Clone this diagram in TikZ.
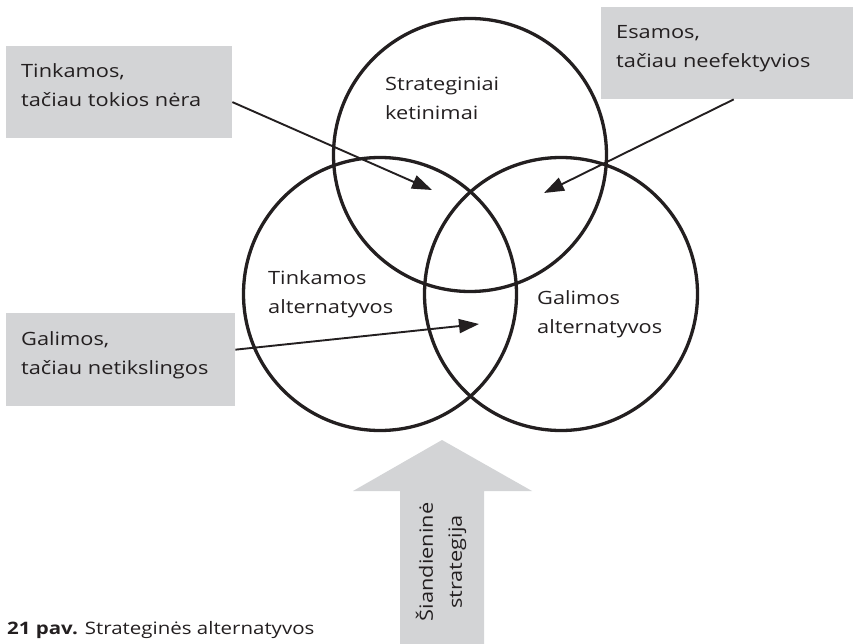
\documentclass[tikz,border=0pt]{standalone}
\usepackage{fontspec}
\setmainfont{Open Sans}[FakeStretch=1.19]
\usetikzlibrary{arrows.meta}
\definecolor{ink}{HTML}{231F20}
\definecolor{boxgrey}{HTML}{D3D4D6}
\newcommand\lblfont{\fontsize{18.3}{29}\selectfont}
\newcommand\capfont{\fontsize{17.2}{20}\selectfont}
\newcommand\firstline{\rule{0pt}{14pt}}
\begin{document}
\begin{tikzpicture}[x=1pt,y=-1pt,
  ring/.style={circle, draw=ink, line width=3.3pt, minimum size=273pt, inner sep=0pt},
  greybox/.style={fill=boxgrey, draw=none, inner sep=0pt, anchor=north west},
  lbl/.style={anchor=north west, inner sep=0pt, align=left, text=ink, font=\lblfont},
  pointer/.style={draw=ink, line width=1.9pt, -{Triangle[length=20pt,width=14pt]}},
]
\useasboundingbox (0,0) rectangle (853,644);

% three overlapping circles
\node[ring] (intent) at (470,155) {};
\node[ring] (suit)   at (380,294) {};
\node[ring] (poss)   at (561,294) {};

% circle labels
\node[lbl] (intentlbl) at (385,76)  {\firstline Strateginiai\\ketinimai};
\node[lbl] (suitlbl)   at (268,270) {\firstline Tinkamos\\alternatyvos};
\node[lbl] (posslbl)   at (537,290) {\firstline Galimos\\alternatyvos};

% grey call-out boxes
\node[greybox, minimum width=226pt, minimum height=92pt] (b1) at (6,46) {};
\node[greybox, minimum width=252pt, minimum height=92pt] (b2) at (601,7) {};
\node[greybox, minimum width=229pt, minimum height=93pt] (b3) at (6,313) {};
\node[lbl] (b1txt) at (21,63)  {\firstline Tinkamos,\\tačiau tokios nėra};
\node[lbl] (b2txt) at (616,24) {\firstline Esamos,\\tačiau neefektyvios};
\node[lbl] (b3txt) at (21,331) {\firstline Galimos,\\tačiau netikslingos};

% arrow targets
\coordinate (t1) at (432,190);
\coordinate (t2) at (544,193);
\coordinate (t3) at (479,324);
\draw[pointer] (b1.-5) -- (t1);
\draw[pointer] (b2.-82.6) -- (t2);
\draw[pointer] (b3.5.2) -- (t3);

% block arrow of the current strategy
\path[fill=boxgrey] (400,644) -- (400,491) -- (353,491) -- (442,440)
  -- (532,491) -- (484,491) -- (484,644) -- cycle;
\node[rotate=90, align=center, inner sep=0pt, text=ink, font=\lblfont] (today) at (441,562)
  {Šiandieninė\\strategija};

% caption
\node[anchor=base west, inner sep=0pt, text=ink, font=\capfont] (caption) at (7,634)
  {\textbf{21 pav.} Strateginės alternatyvos};
\end{tikzpicture}
\end{document}
